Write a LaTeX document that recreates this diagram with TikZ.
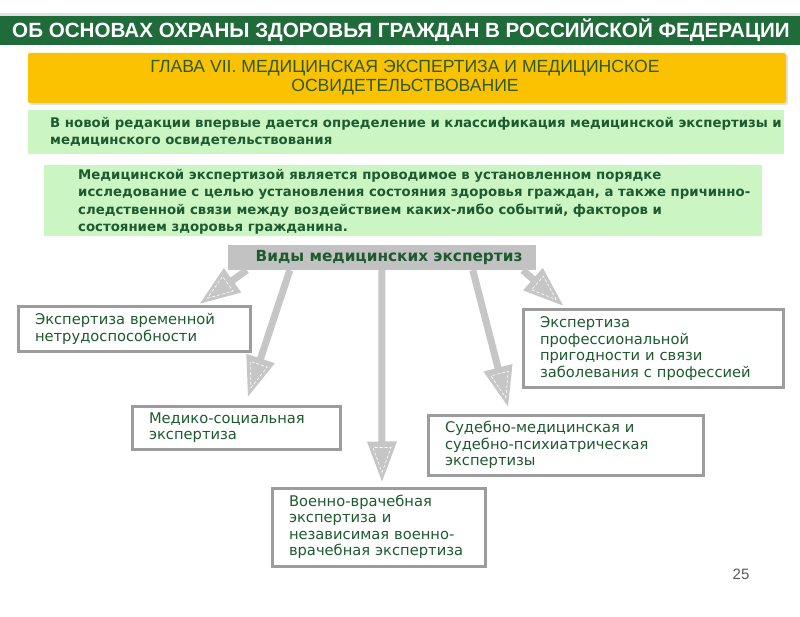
\documentclass[tikz,border=0pt]{standalone}
\usepackage{fontspec}
\setmainfont{Liberation Sans}
\newfontfamily\verdfont{DejaVu Sans}
\usetikzlibrary{calc}
\definecolor{bannergreen}{HTML}{1F6B3A}
\definecolor{gold}{HTML}{FAC200}
\definecolor{lightgreen}{HTML}{CCF5C4}
\definecolor{txtgreen}{HTML}{1E5A30}
\definecolor{goldtxt}{HTML}{2E5A22}
\definecolor{bargray}{HTML}{C2C2C2}
\definecolor{arrgray}{HTML}{C6C6C6}
\definecolor{boxborder}{HTML}{9C9C9C}
\tikzset{
  ebox/.style={draw=boxborder, line width=3pt, fill=white, inner xsep=17pt, inner ysep=0pt,
    align=left, text=txtgreen, font=\verdfont\fontsize{14.7}{16.5}\selectfont},
  ltext/.style={anchor=west, text=txtgreen, align=left, inner sep=0pt},
  shaft/.style={draw=arrgray, line width=7pt}
}
\newcommand{\fatarrow}[2]{%
  \coordinate (hb) at ($(#2)!40pt!(#1)$);
  \draw[shaft] (#1) -- ($(#2)!38pt!(#1)$);
  \fill[arrgray] (#2) -- ($(hb)!15pt!90:(#2)$) -- ($(hb)!15pt!-90:(#2)$) -- cycle;
  \coordinate (hi) at ($(#2)!34pt!(#1)$);
  \draw[white, densely dashed, line width=0.6pt] ($(#2)!9pt!(#1)$) -- ($(hi)!9pt!90:(#2)$) -- ($(hi)!9pt!-90:(#2)$) -- cycle;
}
\begin{document}
\begin{tikzpicture}[x=1pt,y=-1pt]
\useasboundingbox (0,0) rectangle (800,617);
\fill[white] (0,0) rectangle (800,617);
% banner
\fill[black!12] (0,13) rectangle (800,16);
\fill[bannergreen] (0,16) rectangle (800,45);
\node[text=white, font=\bfseries\fontsize{20.6}{23}\selectfont] (title) at (401,30)
  {ОБ ОСНОВАХ ОХРАНЫ ЗДОРОВЬЯ ГРАЖДАН В РОССИЙСКОЙ ФЕДЕРАЦИИ};
% chapter box
\fill[black!12, rounded corners=2pt] (30,55) rectangle (788,105);
\fill[gold, rounded corners=2pt] (28,53) rectangle (786,103);
\node[text=goldtxt, align=center, font=\fontsize{17.6}{19}\selectfont] (chap) at (405,78)
  {ГЛАВА VII. МЕДИЦИНСКАЯ ЭКСПЕРТИЗА И МЕДИЦИНСКОЕ\\ОСВИДЕТЕЛЬСТВОВАНИЕ};
% light green boxes
\fill[lightgreen] (28,110) rectangle (784,154);
\node[ltext, font=\verdfont\bfseries\fontsize{13.3}{17}\selectfont] (intro) at (50,131.5)
  {В новой редакции впервые дается определение и классификация медицинской экспертизы и\\медицинского освидетельствования};
\fill[lightgreen] (44,165) rectangle (762,236);
\node[ltext, font=\verdfont\bfseries\fontsize{13.3}{17.5}\selectfont] (def) at (78,202)
  {Медицинской экспертизой является проводимое в установленном порядке\\исследование с целью установления состояния здоровья граждан, а также причинно-\\следственной связи между воздействием каких-либо событий, факторов и\\состоянием здоровья гражданина.};
% bar
\node[fill=bargray, minimum width=308pt, minimum height=25pt, inner sep=0pt] (bar) at (382,257.5) {};
\node[text=txtgreen, font=\verdfont\bfseries\fontsize{15.3}{17}\selectfont] (bartxt) at (389,257.5) {Виды медицинских экспертиз};
% boxes
\node[ebox, text width=198pt, minimum height=44pt] (bA) at (134,329)
  {Экспертиза временной\\нетрудоспособности};
\node[ebox, text width=174pt, minimum height=43pt] (bB) at (236,427.5)
  {Медико-социальная\\экспертиза};
\node[ebox, text width=226pt, minimum height=77pt] (bC) at (653,348.5)
  {Экспертиза\\профессиональной\\пригодности и связи\\заболевания с профессией};
\node[ebox, text width=241pt, minimum height=60pt] (bD) at (565.5,445)
  {Судебно-медицинская и\\судебно-психиатрическая\\экспертизы};
\node[ebox, text width=179pt, minimum height=78pt] (bE) at (378.5,527)
  {Военно-врачебная\\экспертиза и\\независимая военно-\\врачебная экспертиза};
% arrow endpoints
\coordinate (s1) at ($(bar.south west)+(19,0)$);
\coordinate (s2) at ($(bar.south west)+(62,0)$);
\coordinate (s3) at ($(bar.south west)+(154,0)$);
\coordinate (s4) at ($(bar.south west)+(245,0)$);
\coordinate (s5) at ($(bar.south west)+(295,0)$);
\coordinate (t1) at ($(bA.north)+(66,-2)$);
\coordinate (t2) at ($(bB.north)+(12,-8)$);
\coordinate (t3) at ($(bE.north)+(3.5,-5)$);
\coordinate (t4) at ($(bD.north)+(-57.5,-7)$);
\coordinate (t5) at ($(bC.north)+(-90,-3)$);
\fatarrow{s1}{t1}
\fatarrow{s2}{t2}
\fatarrow{s3}{t3}
\fatarrow{s4}{t4}
\fatarrow{s5}{t5}
% page number
\node[text=black!65, font=\fontsize{15}{17}\selectfont] (pg) at (741,574) {25};
\end{tikzpicture}
\end{document}
